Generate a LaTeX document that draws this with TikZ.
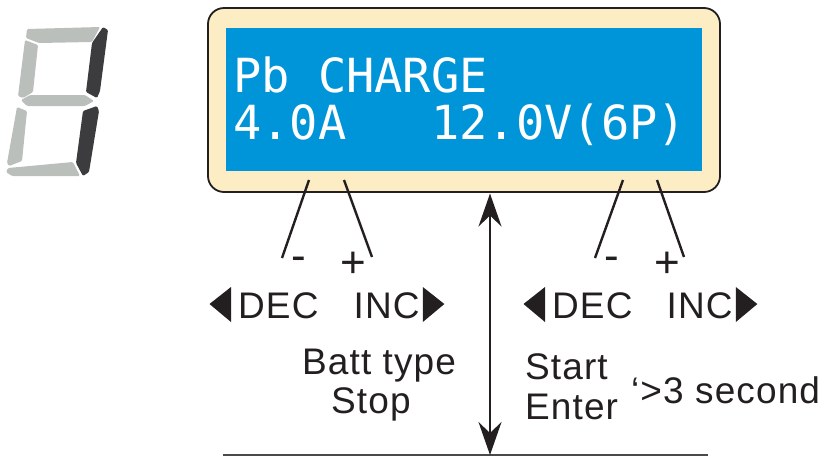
\documentclass[tikz,border=0pt]{standalone}
\usepackage{fontspec}
\usepackage{xcolor}
\usepackage{tikz}
\usetikzlibrary{arrows.meta, positioning}
\setmainfont{Liberation Sans}[LetterSpace=3]
\newfontfamily\lcdfont{DejaVu Sans Mono}
\definecolor{panelcream}{HTML}{FCEDC5}
\definecolor{lcdblue}{HTML}{0094D9}
\definecolor{inkblack}{HTML}{231F20}
\definecolor{segdim}{HTML}{BBBFBB}
\definecolor{seglit}{HTML}{3C3C3E}
\definecolor{rulegray}{HTML}{4A4A4A}
\tikzset{
  arr/.style={{Stealth[length=33pt, width=23pt, inset=11pt]}-{Stealth[length=33pt, width=23pt, inset=11pt]}, line width=1.8pt, inkblack},
  lead/.style={line width=2.4pt, inkblack},
  panel/.style={rectangle, rounded corners=16pt, draw=inkblack, fill=panelcream, line width=1.8pt},
  screen/.style={rectangle, fill=lcdblue, inner sep=0pt},
  lcdtext/.style={text=white, font=\lcdfont\fontsize{47}{50}\selectfont, inner sep=0pt, anchor=base west},
  keytext/.style={text=inkblack, font=\fontsize{37}{40}\selectfont, inner sep=0pt, anchor=base west},
}

\begin{document}
\begin{tikzpicture}[x=1pt, y=-1pt,
    signtext/.style={keytext, font=\fontsize{44}{46}\selectfont},
    segoff/.style={fill=segdim, rounded corners=1.2pt},
    segon/.style={fill=seglit, rounded corners=1.2pt}]
  \useasboundingbox (0,0) rectangle (827,456);

  % Seven segment digit
  \fill[segoff] (27,29) -- (100,27) -- (92,42) -- (39,43) -- (26,38) -- cycle;
  \fill[segoff] (25,40) -- (38,45) -- (33,92) -- (23,98) -- (18,96) -- cycle;
  \fill[segon]  (103,27) -- (108,30) -- (100,91) -- (97,98) -- (86,92) -- (92,43) -- cycle;
  \fill[segoff] (21,100) -- (30,95) -- (85,95) -- (94,101) -- (85,106) -- (27,106) -- cycle;
  \fill[segoff] (17,107) -- (27,111) -- (22,161) -- (9,166) -- (7,163) -- cycle;
  \fill[segon]  (97,106) -- (99,111) -- (89,172) -- (83,176) -- (76,163) -- (83,111) -- cycle;
  \fill[segoff] (8,168) -- (73,162) -- (80,176) -- (12,176) -- (6,172) -- cycle;

  % Charger panel and LCD
  \node[panel, minimum width=512pt, minimum height=184pt] (panel) at (464,100) {};
  \node[screen, minimum width=476pt, minimum height=143pt] (lcd) at (464,99.5) {};
  \node[lcdtext] (lcdA) at (233,92) {Pb CHARGE};
  \node[lcdtext] (lcdB) at (233,139) {4.0A\ \ \ 12.0V(6P)};

  % Key leads
  \coordinate (decLtop) at (309,180);
  \coordinate (decLend) at (282,258);
  \coordinate (incLtop) at (344,180);
  \coordinate (incLend) at (372,257);
  \coordinate (decRtop) at (623,180);
  \coordinate (decRend) at (595,258);
  \coordinate (incRtop) at (657,180);
  \coordinate (incRend) at (684,257);
  \draw[lead] (decLtop) -- (decLend);
  \draw[lead] (incLtop) -- (incLend);
  \draw[lead] (decRtop) -- (decRend);
  \draw[lead] (incRtop) -- (incRend);

  \node[signtext] (minusL) at (291,270.5) {-};
  \node[signtext] (plusL) at (340.5,277) {+};
  \node[signtext] (minusR) at (604,270.5) {-};
  \node[signtext] (plusR) at (654.5,277) {+};

  % Key labels
  \node[keytext] (decL) at (238,318) {DEC};
  \node[keytext] (incL) at (353.5,318) {INC};
  \node[keytext] (decR) at (552,318) {DEC};
  \node[keytext] (incR) at (666.5,318) {INC};
  \foreach \nd in {decL,decR} {
    \fill[inkblack, shift={(\nd.base west)}] (-28.5,-14) -- (-7,-31) -- (-7,4) -- cycle;
  }
  \foreach \nd in {incL,incR} {
    \fill[inkblack, shift={(\nd.base east)}] (24.5,-14) -- (3,-31) -- (3,4) -- cycle;
  }

  \node[keytext] (battL) at (302,374) {Batt type};
  \node[keytext] (stopL) at (331,413) {Stop};
  \node[keytext] (startL) at (525,379) {Start};
  \node[keytext] (enterL) at (525,419) {Enter};
  \node[keytext] (holdL) at (631,403) {‘>3 second};

  % Travel arrow and base line
  \coordinate (armTop) at (490,193.5);
  \coordinate (armBot) at (490,455);
  \coordinate (baseA) at (223,455);
  \coordinate (baseB) at (708,455);
  \draw[line width=1.6pt, rulegray] (baseA) -- (baseB);
  \draw[arr] (armTop) -- (armBot);
\end{tikzpicture}
\end{document}
